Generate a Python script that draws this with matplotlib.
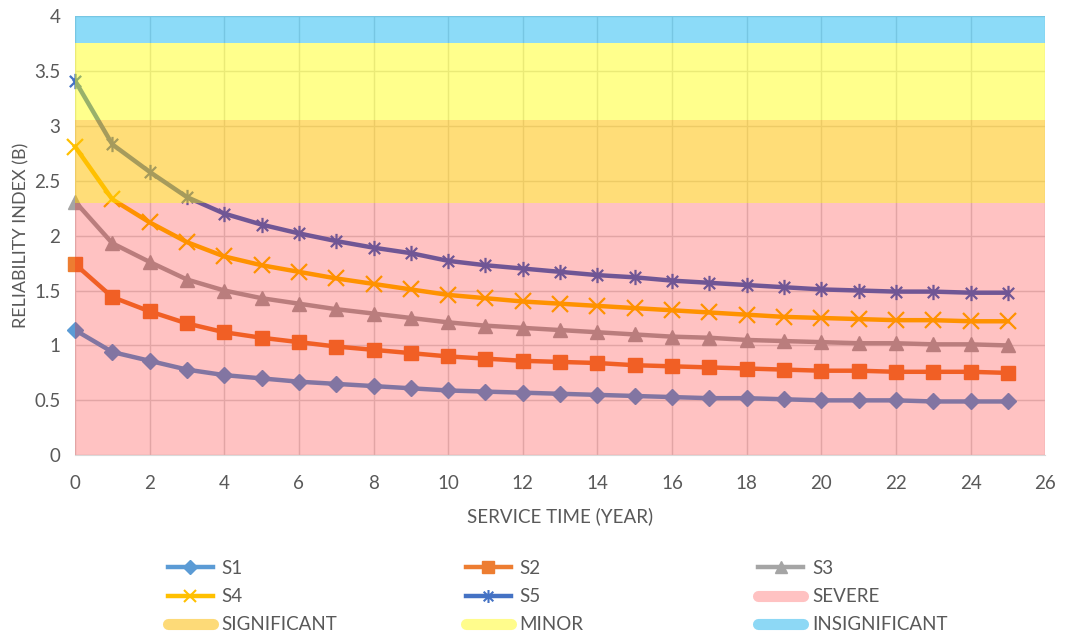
import matplotlib
matplotlib.use("Agg")
import matplotlib.pyplot as plt
from matplotlib.path import Path
from matplotlib.lines import Line2D

plt.rcParams['font.family'] = ['Lato', 'DejaVu Sans']

# Service time in years
years = list(range(26))

s1 = [1.14, 0.94, 0.86, 0.78, 0.73, 0.70, 0.67, 0.65, 0.63, 0.61, 0.59, 0.58, 0.57,
      0.56, 0.55, 0.54, 0.53, 0.52, 0.52, 0.51, 0.50, 0.50, 0.50, 0.49, 0.49, 0.49]
s2 = [1.74, 1.44, 1.31, 1.20, 1.12, 1.07, 1.03, 0.99, 0.96, 0.93, 0.90, 0.88, 0.86,
      0.85, 0.84, 0.82, 0.81, 0.80, 0.79, 0.78, 0.77, 0.77, 0.76, 0.76, 0.76, 0.75]
s3 = [2.31, 1.93, 1.76, 1.60, 1.50, 1.43, 1.38, 1.33, 1.29, 1.25, 1.21, 1.18, 1.16,
      1.14, 1.12, 1.10, 1.08, 1.07, 1.05, 1.04, 1.03, 1.02, 1.02, 1.01, 1.01, 1.00]
s4 = [2.81, 2.33, 2.12, 1.94, 1.81, 1.73, 1.67, 1.61, 1.56, 1.51, 1.46, 1.43, 1.40,
      1.38, 1.36, 1.34, 1.32, 1.30, 1.28, 1.26, 1.25, 1.24, 1.23, 1.23, 1.22, 1.22]
s5 = [3.41, 2.83, 2.58, 2.35, 2.20, 2.10, 2.02, 1.95, 1.89, 1.84, 1.77, 1.73, 1.70,
      1.67, 1.64, 1.62, 1.59, 1.57, 1.55, 1.53, 1.51, 1.50, 1.49, 1.49, 1.48, 1.48]

series_names = ["S1", "S2", "S3", "S4", "S5"]

# Condition bands: (label, lower, upper)
band_names = ["SEVERE", "SIGNIFICANT", "MINOR", "INSIGNIFICANT"]
band_lower = [0.0, 2.30, 3.05, 3.75]
band_upper = [2.30, 3.05, 3.75, 4.0]

x_ticks = list(range(0, 27, 2))
y_ticks = [0, 0.5, 1, 1.5, 2, 2.5, 3, 3.5, 4]
y_tick_labels = ["0", "0.5", "1", "1.5", "2", "2.5", "3", "3.5", "4"]

line_colors = ["#5B9BD5", "#ED7D31", "#A5A5A5", "#FFC000", "#4472C4"]
band_colors = ["#FF0000", "#FFC000", "#FFFF00", "#00B0F0"]
band_alphas = [0.24, 0.53, 0.45, 0.45]
band_legend_colors = ["#FFC2C2", "#FDDA78", "#FFFC8C", "#8DD8F5"]
text_grey = "#595959"

# Excel-style star: an x with a vertical bar
star_path = Path(
    [(-1, -1), (1, 1), (-1, 1), (1, -1), (0, -1.35), (0, 1.35)],
    [Path.MOVETO, Path.LINETO, Path.MOVETO, Path.LINETO, Path.MOVETO, Path.LINETO],
)
markers = ["D", "s", "^", "x", star_path]
msizes = [8, 10.5, 10.5, 11, 11]

fig = plt.figure(figsize=(10.72, 6.35), dpi=100)
ax = fig.add_axes([0.070, 0.283, 0.905, 0.692])

data = [s1, s2, s3, s4, s5]
for name, vals, c, m, ms in zip(series_names, data, line_colors, markers, msizes):
    filled = m in ("D", "s", "^")
    ax.plot(years, vals, color=c, lw=3.2, marker=m, markersize=ms,
            markerfacecolor=c, markeredgecolor=c,
            markeredgewidth=1.0 if filled else 1.6,
            clip_on=False, zorder=2, solid_joinstyle="round")

# Semi-transparent condition bands laid over the curves
for lo, hi, c, a in zip(band_lower, band_upper, band_colors, band_alphas):
    ax.axhspan(lo, hi, xmin=0, xmax=1, color=c, alpha=a, lw=0, zorder=3)

ax.set_xlim(0, 26)
ax.set_ylim(0, 4)
ax.set_xticks(x_ticks)
ax.set_yticks(y_ticks)
ax.set_yticklabels(y_tick_labels)
ax.grid(True, color="#D9D9D9", lw=1.0, zorder=1)
ax.set_axisbelow(True)
for s in ["top", "right", "left"]:
    ax.spines[s].set_visible(False)
ax.spines["bottom"].set_color("#D9D9D9")
ax.spines["bottom"].set_zorder(4)
ax.tick_params(length=0, labelsize=13.5, labelcolor=text_grey)
ax.tick_params(axis="x", pad=14.5)
ax.tick_params(axis="y", pad=10.5)
ax.set_xlabel("SERVICE TIME (YEAR)", fontsize=13.5, color=text_grey, labelpad=11)
ax.set_ylabel("RELIABILITY INDEX (B)", fontsize=13, color=text_grey, labelpad=3)

# Legend handles
series_handles = []
for name, c, m, ms in zip(series_names, line_colors, markers, msizes):
    filled = m in ("D", "s", "^")
    series_handles.append(Line2D([], [], color=c, lw=3.2, marker=m,
                                 markersize=ms * 0.85, markerfacecolor=c,
                                 markeredgecolor=c,
                                 markeredgewidth=1.0 if filled else 1.5,
                                 label=name))
band_handles = [Line2D([], [], color=c, lw=8, solid_capstyle="round", label=n)
                for n, c in zip(band_names, band_legend_colors)]
h = {hd.get_label(): hd for hd in series_handles + band_handles}

# Three legend columns, laid out left to right below the axes
columns = [["S1", "S4", "SIGNIFICANT"],
           ["S2", "S5", "MINOR"],
           ["S3", "SEVERE", "INSIGNIFICANT"]]
col_x = [0.1565, 0.4345, 0.7075]
legend_top = 1 - 560 / 635
for xpos, names in zip(col_x, columns):
    leg = fig.legend([h[n] for n in names], names, loc="upper left",
                     bbox_to_anchor=(xpos, legend_top), bbox_transform=fig.transFigure,
                     frameon=False, fontsize=13.5, handlelength=2.4,
                     handletextpad=0.45, labelspacing=0.6, borderaxespad=0,
                     borderpad=0)
    for t in leg.get_texts():
        t.set_color(text_grey)

fig.savefig("out.png", dpi=100)
